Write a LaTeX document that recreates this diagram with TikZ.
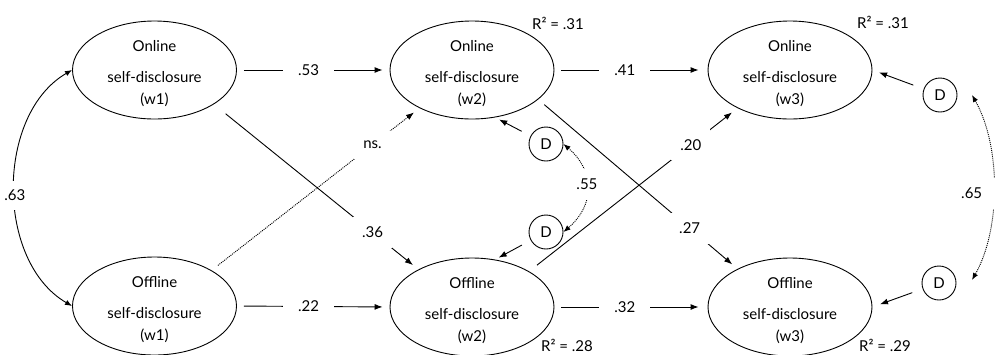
\documentclass[tikz,border=0pt]{standalone}
\usepackage{fontspec}
\setmainfont{Lato}
\usetikzlibrary{arrows.meta,shapes.geometric}
\begin{document}
\begin{tikzpicture}[x=1pt,y=-1pt,
  every node/.style={font=\fontsize{15}{22}\selectfont},
  ell/.style={draw, ellipse, minimum width=164pt, minimum height=98pt, inner sep=0pt, line width=0.9pt},
  etext/.style={align=center, yshift=-4pt},
  dnode/.style={draw, circle, minimum size=34pt, inner sep=0pt, line width=0.9pt},
  rsq/.style={inner sep=1pt},
  arr/.style={line width=0.9pt, -{Latex[length=8pt,width=6pt]}},
  dotarr/.style={line width=0.9pt, dash pattern=on 1pt off 1pt, -{Latex[length=8pt,width=6pt]}},
  darr/.style={line width=0.9pt, dash pattern=on 1pt off 1pt, {Latex[length=7pt,width=5.5pt]}-{Latex[length=7pt,width=5.5pt]}},
  lblh/.style={fill=white, inner xsep=15pt, inner ysep=2pt},
  lbld/.style={fill=white, inner xsep=9pt, inner ysep=10pt},
  lblc/.style={fill=white, inner xsep=3pt, inner ysep=10pt}
]
\useasboundingbox (0,0) rectangle (998,354);

% ellipses
\node[ell, label={[etext]center:{Online\\[9pt]self-disclosure\\(w1)}}] (on1) at (154.5,70) {};
\node[ell, label={[etext]center:{Offline\\[9pt]self-disclosure\\(w1)}}] (off1) at (154.5,306) {};
\node[ell, label={[etext]center:{Online\\[9pt]self-disclosure\\(w2)}}] (on2) at (472,70) {};
\node[ell, label={[etext]center:{Offline\\[9pt]self-disclosure\\(w2)}}] (off2) at (472,307) {};
\node[ell, label={[etext]center:{Online\\[9pt]self-disclosure\\(w3)}}] (on3) at (790,70) {};
\node[ell, label={[etext]center:{Offline\\[9pt]self-disclosure\\(w3)}}] (off3) at (790,307) {};

% disturbances
\node[dnode] (d1) at (546,144) {D};
\node[dnode] (d2) at (546,232) {D};
\node[dnode] (d3) at (940,95) {D};
\node[dnode] (d4) at (939,283) {D};
\coordinate (e3) at (972,95);
\coordinate (e4) at (972,280);

% R squared
\node[rsq] (r2a) at (558,23) {R² = .31};
\node[rsq] (r2b) at (883,22) {R² = .31};
\node[rsq] (r2c) at (567,345) {R² = .28};
\node[rsq] (r2d) at (885,345) {R² = .29};

% horizontal paths
\draw[arr, shorten <=7pt, shorten >=7pt] (on1.east) -- node[lblh, pos=0.47]{.53} (on2.west);
\draw[arr, shorten <=7pt, shorten >=7pt] (off1.east) -- node[lblh, pos=0.47]{.22} (off2.west);
\draw[arr, shorten <=7pt, shorten >=9pt] (on2.east) -- node[lblh, pos=0.46]{.41} (on3.west);
\draw[arr, shorten <=7pt, shorten >=9pt] (off2.east) -- node[lblh, pos=0.46]{.32} (off3.west);

% cross paths
\draw[arr, shorten <=15pt, shorten >=7pt] (on1.-30) -- node[lbld, pos=0.776]{.36} (off2.145);
\draw[arr, shorten <=8pt, shorten >=7pt] (on2.-24) -- node[lbld, pos=0.76]{.27} (off3.144);
\draw[arr, shorten <=10pt, shorten >=7pt] (off2.32) -- node[lbld, pos=0.776]{.20} (on3.-144);
\draw[dotarr, shorten <=8pt, shorten >=7pt] (off1.32) -- node[lbld, pos=0.774]{ns.} (on2.-144);

% disturbance paths
\draw[arr, shorten <=10pt, shorten >=4.5pt] (d1) -- (on2.-64);
\draw[arr, shorten <=10pt, shorten >=4pt] (d2) -- (off2.64);
\draw[arr, shorten <=11pt, shorten >=7pt] (d3) -- (on3.east);
\draw[arr, shorten <=11pt, shorten >=8pt] (d4) -- (off3.east);

% correlations
\draw[darr, dash pattern=] (on1.west) .. controls (-4.5,114.5) and (-4.5,261.5) .. node[lblc, pos=0.525, inner ysep=9pt]{.63} (off1.west);
\draw[darr] (d1.east) .. controls (595,171) and (595,205) .. node[lblc, pos=0.46]{.55} (d2.east);
\draw[darr] (e3) .. controls (1001,146) and (1001,229) .. node[lblc, pos=0.53, xshift=-22pt, inner xsep=14pt]{.65} (e4);
\end{tikzpicture}
\end{document}
